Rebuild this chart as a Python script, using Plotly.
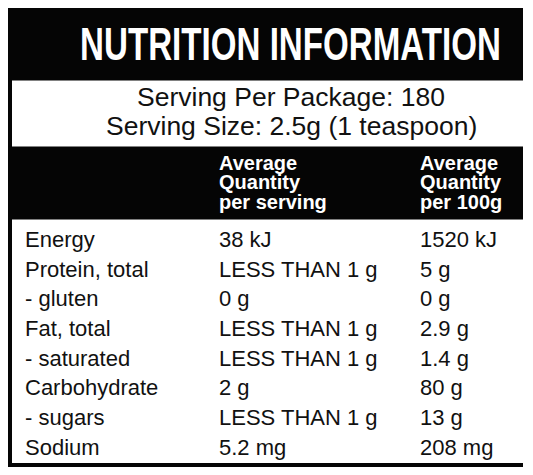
import plotly.graph_objects as go

# --- DATA ---
TITLE = "NUTRITION INFORMATION"
SERVINGS_PER_PACKAGE = 180
SERVING_SIZE = "2.5g (1 teaspoon)"

HEADER_PER_SERVING = ["Average", "Quantity", "per serving"]
HEADER_PER_100G = ["Average", "Quantity", "per 100g"]

NUTRIENTS = ["Energy", "Protein, total", "- gluten", "Fat, total",
             "- saturated", "Carbohydrate", "- sugars", "Sodium"]
PER_SERVING = ["38 kJ", "LESS THAN 1 g", "0 g", "LESS THAN 1 g",
               "LESS THAN 1 g", "2 g", "LESS THAN 1 g", "5.2 mg"]
PER_100G = ["1520 kJ", "5 g", "0 g", "2.9 g",
            "1.4 g", "80 g", "13 g", "208 mg"]

# --- LAYOUT ---
# the page body keeps its default 8px margin, so the figure covers
# x 8..525 and y 8..467 of the window; the axes use window pixels
X0, X1 = 8, 525
Y0, Y1 = 8, 467
LEFT, RIGHT = 8, 523
COL_X = [24, 218, 419]
ROW_TOP = 247          # baseline of first row
ROW_STEP = 29.7
HEAD_BASE = [169.5, 189, 208.5]

FONT = "Liberation Sans, Arial, sans-serif"


def text(x, baseline, s, size, color="#111", anchor="left", bold=False):
    # centre of the cap height sits about 0.35em above the baseline
    return dict(x=x, y=baseline - 0.35 * size, xref="x", yref="y", text=s,
                showarrow=False, xanchor=anchor, yanchor="middle",
                font=dict(family=FONT, size=size, color=color,
                          weight="bold" if bold else "normal"),
                borderpad=0)


annotations = []

# title (squeezed horizontally after render, see post_script)
annotations.append(text(290.5, 60, TITLE, 47, "white", "center", True))

# serving info
annotations.append(text(291, 106, f"Serving Per Package: {SERVINGS_PER_PACKAGE}", 26.5, anchor="center"))
annotations.append(text(291, 135, f"Serving Size: {SERVING_SIZE}", 26.5, anchor="center"))

# column headers
for base, a, b in zip(HEAD_BASE, HEADER_PER_SERVING, HEADER_PER_100G):
    annotations.append(text(COL_X[1], base, a, 20, "white", bold=True))
    annotations.append(text(COL_X[2], base, b, 20, "white", bold=True))

# body rows
for i, (n, s, p) in enumerate(zip(NUTRIENTS, PER_SERVING, PER_100G)):
    base = ROW_TOP + i * ROW_STEP
    annotations.append(text(COL_X[0], base, n, 22))
    annotations.append(text(COL_X[1], base, s, 22))
    annotations.append(text(COL_X[2], base, p, 22))

black = dict(type="rect", xref="x", yref="y", fillcolor="#050505", line_width=0, layer="below")
shapes = [
    dict(black, x0=LEFT, x1=RIGHT, y0=8, y1=80.5),        # title band
    dict(black, x0=LEFT, x1=12, y0=80, y1=147),           # serving left edge
    dict(black, x0=LEFT, x1=RIGHT, y0=146.5, y1=219.5),   # column header band
    dict(black, x0=LEFT, x1=12, y0=219, y1=467),          # body left edge
    dict(black, x0=LEFT, x1=RIGHT, y0=463, y1=467),       # bottom rule
]

fig = go.Figure()
fig.update_layout(
    width=X1 - X0, height=Y1 - Y0,
    margin=dict(l=0, r=0, t=0, b=0),
    paper_bgcolor="white", plot_bgcolor="white",
    xaxis=dict(range=[X0, X1], visible=False, fixedrange=True),
    yaxis=dict(range=[Y1, Y0], visible=False, fixedrange=True),
    shapes=shapes,
    annotations=annotations,
    showlegend=False,
)

# condensed title: no narrow bold font is installed, so scale the text
squeeze = """
var gd = document.getElementById('{plot_id}');
function squeezeTitle() {
  gd.querySelectorAll('text.annotation-text').forEach(function (t) {
    if (t.textContent === '%s') {
      t.style.transformBox = 'fill-box';
      t.style.transformOrigin = 'center';
      t.style.transform = 'scaleX(0.705)';
    }
  });
}
squeezeTitle();
gd.on('plotly_afterplot', squeezeTitle);
""" % TITLE

fig.write_html("out.html", config={"displayModeBar": False}, post_script=squeeze)
